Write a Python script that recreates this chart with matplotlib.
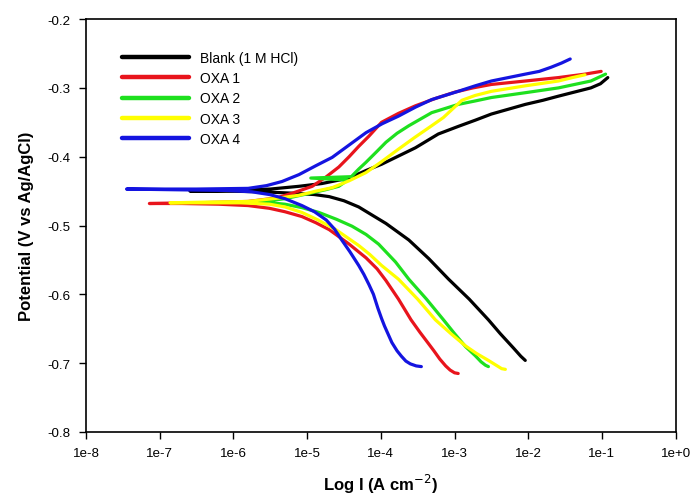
import matplotlib
matplotlib.use('Agg')
import numpy as np
import matplotlib.pyplot as plt

plt.rcParams['font.family'] = ['Liberation Sans', 'DejaVu Sans']

# Tafel curves, log10(I / A cm-2) and potential (V vs Ag/AgCl)
# each series runs from the cathodic end, through the tip at Ecorr, to the anodic end
blank_logi = [-2.04, -2.10, -2.20, -2.38, -2.54, -2.80, -3.08, -3.35, -3.62, -3.93, -4.10, -4.30,
              -4.50, -4.70, -4.90, -5.20, -5.60, -6.10, -6.59,
              -6.00, -5.50, -5.11, -4.80, -4.43, -4.20, -3.99, -3.76, -3.53, -3.22, -2.95, -2.72,
              -2.50, -2.27, -2.04, -1.80, -1.59, -1.37, -1.15, -1.02, -0.92]
blank_e = [-0.696, -0.690, -0.678, -0.657, -0.637, -0.607, -0.578, -0.548, -0.521, -0.497, -0.486, -0.473,
           -0.464, -0.458, -0.455, -0.453, -0.451, -0.450, -0.450,
           -0.449, -0.447, -0.443, -0.439, -0.431, -0.420, -0.411, -0.399, -0.387, -0.367, -0.356, -0.347,
           -0.338, -0.331, -0.324, -0.318, -0.312, -0.306, -0.300, -0.294, -0.285]

oxa1_logi = [-2.95, -3.00, -3.06, -3.12, -3.20, -3.28, -3.35, -3.47, -3.59, -3.76, -3.93, -4.05,
             -4.20, -4.43, -4.70, -4.88, -5.07, -5.30, -5.51, -5.80, -6.20, -6.70, -7.14,
             -6.50, -5.80, -5.42, -5.20, -4.93, -4.75, -4.57, -4.43, -4.30, -4.16, -3.99, -3.76,
             -3.53, -3.25, -2.99, -2.75, -2.50, -2.04, -1.59, -1.23, -1.01]
oxa1_e = [-0.715, -0.714, -0.710, -0.704, -0.694, -0.682, -0.672, -0.655, -0.637, -0.607, -0.580, -0.563,
          -0.547, -0.527, -0.506, -0.496, -0.487, -0.480, -0.475, -0.471, -0.469, -0.468, -0.468,
          -0.467, -0.465, -0.460, -0.453, -0.443, -0.430, -0.415, -0.400, -0.385, -0.370, -0.350, -0.337,
          -0.326, -0.315, -0.306, -0.300, -0.295, -0.290, -0.285, -0.280, -0.276]

oxa2_logi = [-2.54, -2.58, -2.64, -2.72, -2.85, -3.00, -3.15, -3.38, -3.62, -3.80, -4.03, -4.20,
             -4.39, -4.60, -4.84, -5.07, -5.30, -5.60, -5.90,
             -5.60, -5.30, -5.00, -4.75, -4.57, -4.45, -4.95, -4.40, -4.30, -4.20, -4.05, -3.93,
             -3.78, -3.62, -3.31, -2.95, -2.72, -2.50, -2.04, -1.59, -1.15, -0.95]
oxa2_e = [-0.705, -0.703, -0.698, -0.689, -0.676, -0.657, -0.637, -0.607, -0.578, -0.553, -0.527, -0.513,
          -0.501, -0.491, -0.481, -0.474, -0.469, -0.466, -0.466,
          -0.465, -0.461, -0.454, -0.448, -0.443, -0.434, -0.431, -0.429, -0.418, -0.408, -0.392, -0.379,
          -0.366, -0.355, -0.336, -0.324, -0.319, -0.314, -0.307, -0.300, -0.290, -0.280]

oxa3_logi = [-2.31, -2.36, -2.42, -2.54, -2.70, -2.85, -3.05, -3.26, -3.50, -3.76, -3.99, -4.15,
             -4.30, -4.61, -4.85, -5.07, -5.30, -5.51, -5.90, -6.40, -6.86,
             -6.40, -5.80, -5.38, -5.11, -4.88, -4.66, -4.43, -4.20, -4.00, -3.76, -3.54, -3.31,
             -3.15, -3.04, -2.90, -2.72, -2.50, -2.04, -1.59, -1.40, -1.23]
oxa3_e = [-0.709, -0.708, -0.704, -0.696, -0.686, -0.675, -0.657, -0.637, -0.607, -0.578, -0.558, -0.542,
          -0.529, -0.506, -0.492, -0.481, -0.473, -0.469, -0.467, -0.467, -0.467,
          -0.466, -0.465, -0.460, -0.456, -0.450, -0.445, -0.435, -0.423, -0.408, -0.389, -0.372, -0.355,
          -0.343, -0.332, -0.318, -0.311, -0.305, -0.297, -0.290, -0.285, -0.281]

oxa4_logi = [-3.45, -3.52, -3.60, -3.66, -3.72, -3.78, -3.85, -3.90, -3.95, -3.99, -4.04, -4.10,
             -4.16, -4.23, -4.30, -4.42, -4.53, -4.63, -4.74, -4.90, -5.07, -5.30, -5.51, -5.75,
             -6.10, -6.80, -7.45,
             -6.50, -5.80, -5.55, -5.34, -5.11, -4.88, -4.66, -4.43, -4.20, -3.98, -3.76, -3.53,
             -3.31, -2.95, -2.72, -2.50, -2.27, -2.04, -1.85, -1.69, -1.55, -1.43]
oxa4_e = [-0.705, -0.704, -0.701, -0.697, -0.690, -0.682, -0.670, -0.658, -0.646, -0.635, -0.620, -0.600,
          -0.586, -0.571, -0.558, -0.538, -0.521, -0.505, -0.492, -0.480, -0.471, -0.461, -0.455, -0.451,
          -0.449, -0.448, -0.447,
          -0.447, -0.446, -0.442, -0.436, -0.426, -0.413, -0.401, -0.383, -0.365, -0.352, -0.341, -0.328,
          -0.317, -0.305, -0.297, -0.290, -0.285, -0.280, -0.276, -0.270, -0.264, -0.258]

labels = ['Blank (1 M HCl)', 'OXA 1', 'OXA 2', 'OXA 3', 'OXA 4']
colors = ['#000000', '#e8141c', '#1ee01e', '#ffff00', '#1414e0']
series = [(blank_logi, blank_e), (oxa1_logi, oxa1_e), (oxa2_logi, oxa2_e),
          (oxa3_logi, oxa3_e), (oxa4_logi, oxa4_e)]

xticks = [1e-8, 1e-7, 1e-6, 1e-5, 1e-4, 1e-3, 1e-2, 1e-1, 1e0]
xtick_labels = ['1e-8', '1e-7', '1e-6', '1e-5', '1e-4', '1e-3', '1e-2', '1e-1', '1e+0']
yticks = [-0.8, -0.7, -0.6, -0.5, -0.4, -0.3, -0.2]

fig = plt.figure(figsize=(6.92, 5.02), dpi=100)
ax = fig.add_axes([0.1243, 0.1375, 0.852, 0.8225])

for (logi, e), lab, col in zip(series, labels, colors):
    ax.plot(10 ** np.array(logi), e, color=col, lw=2.3, label=lab,
            solid_capstyle='round', solid_joinstyle='round')

ax.set_xscale('log')
ax.set_xlim(1e-8, 1e0)
ax.set_ylim(-0.8, -0.2)
ax.xaxis.set_minor_locator(matplotlib.ticker.NullLocator())
ax.set_xticks(xticks)
ax.set_xticklabels(xtick_labels)
ax.set_yticks(yticks)
ax.set_yticklabels(['%.1f' % v for v in yticks])
ax.tick_params(direction='out', length=5, width=1, labelsize=9.6, pad=6)
for s in ax.spines.values():
    s.set_linewidth(1.2)

ax.set_xlabel('Log I (A cm$^{-2}$)', fontsize=12, fontweight='bold', labelpad=9)
ax.set_ylabel('Potential (V vs Ag/AgCl)', fontsize=12, fontweight='bold', labelpad=10)

leg = ax.legend(loc='upper left', bbox_to_anchor=(0.04, 0.953), frameon=False,
                fontsize=10, handlelength=4.8, handletextpad=0.8, labelspacing=0.45)
for ln in leg.get_lines():
    ln.set_linewidth(3.2)

plt.savefig('out.png', dpi=100)
